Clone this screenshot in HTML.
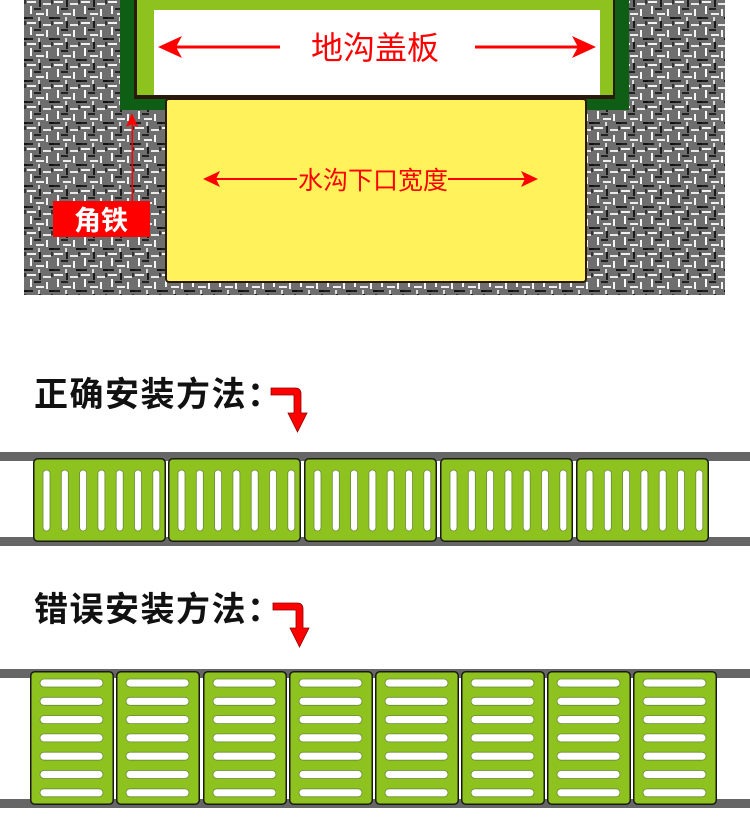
<!DOCTYPE html>
<html><head><meta charset="utf-8"><style>
html,body{margin:0;padding:0;background:#fff;width:750px;height:833px;overflow:hidden}
svg{display:block}
text{font-family:"Liberation Sans","Noto Sans CJK SC",sans-serif}
</style></head><body>
<svg width="750" height="833" viewBox="0 0 750 833" xmlns="http://www.w3.org/2000/svg">
<defs>
<pattern id="tex" width="27" height="21" patternUnits="userSpaceOnUse">
<rect width="27" height="21" fill="#6e6e6e"/>
<rect x="0" y="1" width="9" height="2" fill="#f2f2f2"/>
<rect x="12" y="0" width="2" height="7" fill="#1a1a1a"/>
<rect x="16" y="3" width="8" height="2" fill="#e8e8e8"/>
<rect x="3" y="6" width="2" height="8" fill="#fafafa"/>
<rect x="7" y="8" width="7" height="2" fill="#222"/>
<rect x="19" y="9" width="2" height="7" fill="#f5f5f5"/>
<rect x="9" y="13" width="8" height="2" fill="#eee"/>
<rect x="0" y="17" width="6" height="2" fill="#1e1e1e"/>
<rect x="22" y="17" width="5" height="2" fill="#111"/>
<rect x="11" y="17" width="2" height="4" fill="#ddd"/>
<rect x="24" y="0" width="2" height="4" fill="#333"/>
</pattern>
<g id="pc">
<rect x="0.75" y="0.75" width="131.5" height="82.5" rx="4" fill="#8dc21f" stroke="#1a1a1a" stroke-width="1.5"/>
<g fill="#fff" stroke="#6a8a3a" stroke-width="0.8">
<rect x="10" y="12" width="7" height="61" rx="3.5"/>
<rect x="28.3" y="12" width="7" height="61" rx="3.5"/>
<rect x="46.6" y="12" width="7" height="61" rx="3.5"/>
<rect x="64.9" y="12" width="7" height="61" rx="3.5"/>
<rect x="83.2" y="12" width="7" height="61" rx="3.5"/>
<rect x="101.5" y="12" width="7" height="61" rx="3.5"/>
<rect x="119.8" y="12" width="7" height="61" rx="3.5"/>
</g></g>
<g id="pw">
<rect x="0.75" y="0.75" width="82.5" height="132.5" rx="4" fill="#8dc21f" stroke="#1a1a1a" stroke-width="1.5"/>
<g fill="#fff" stroke="#6a8a3a" stroke-width="0.8">
<rect x="10" y="8" width="63" height="8" rx="4"/>
<rect x="10" y="26.3" width="63" height="8" rx="4"/>
<rect x="10" y="44.6" width="63" height="8" rx="4"/>
<rect x="10" y="62.9" width="63" height="8" rx="4"/>
<rect x="10" y="81.2" width="63" height="8" rx="4"/>
<rect x="10" y="99.5" width="63" height="8" rx="4"/>
<rect x="10" y="117.8" width="63" height="8" rx="4"/>
</g></g>
</defs>

<rect x="24" y="0" width="701" height="295" fill="url(#tex)"/>
<rect x="120" y="0" width="509" height="110" fill="#0f5e16"/>
<rect x="134" y="0" width="481" height="99" fill="#2a1a0e"/>
<rect x="137" y="0" width="476" height="95" fill="#8dc21f"/>
<rect x="154" y="10" width="446" height="85" fill="#fff"/>
<rect x="166" y="99" width="420" height="183" rx="3" fill="#fff25a" stroke="#2a1a0e" stroke-width="2"/>

<g fill="#f00" stroke="none">
<rect x="175" y="45.5" width="105" height="3"/>
<polygon points="158,47 182,36 176,47 182,58"/>
<rect x="475" y="45.5" width="105" height="3"/>
<polygon points="596,47 572,36 578,47 572,58"/>
<rect x="215" y="178" width="82" height="2"/>
<polygon points="203,179 220,171 216,179 220,187"/>
<rect x="448" y="178" width="78" height="2"/>
<polygon points="538,179 521,171 525,179 521,187"/>
<rect x="131.5" y="124" width="1.5" height="78"/>
<polygon points="132,113 126,127 132,124 138,127"/>
<rect x="53" y="201" width="97" height="36"/>
</g>
<text x="375" y="59" font-size="32" fill="#f00" text-anchor="middle">地沟盖板</text>
<text x="373" y="189" font-size="25" fill="#f00" text-anchor="middle">水沟下口宽度</text>
<text x="101" y="230" font-size="27" fill="#fff" text-anchor="middle" font-weight="bold">角铁</text>

<text x="34" y="406" font-size="34" letter-spacing="1.5" font-weight="bold" fill="#111">正确安装方法：</text>
<path d="M271 388 H295 Q301 388 301 394 V413 H307 L297.5 432 L288 413 H294 V396 Q294 395 293 395 H271 Z" fill="#f00" stroke="#8a0000" stroke-width="0.8"/>
<rect x="0" y="452" width="750" height="9" fill="#666"/>
<rect x="0" y="537" width="750" height="9" fill="#666"/>
<use href="#pc" x="33" y="458"/>
<use href="#pc" x="168" y="458"/>
<use href="#pc" x="304" y="458"/>
<use href="#pc" x="440" y="458"/>
<use href="#pc" x="576" y="458"/>

<text x="34" y="621" font-size="34" letter-spacing="1.5" font-weight="bold" fill="#111">错误安装方法：</text>
<path d="M273 603 H297 Q303 603 303 609 V628 H309 L299.5 647 L290 628 H296 V611 Q296 610 295 610 H273 Z" fill="#f00" stroke="#8a0000" stroke-width="0.8"/>
<rect x="0" y="669" width="750" height="9" fill="#666"/>
<rect x="0" y="799" width="750" height="9" fill="#666"/>
<use href="#pw" x="30" y="671"/>
<use href="#pw" x="116" y="671"/>
<use href="#pw" x="203" y="671"/>
<use href="#pw" x="289" y="671"/>
<use href="#pw" x="375" y="671"/>
<use href="#pw" x="461" y="671"/>
<use href="#pw" x="547" y="671"/>
<use href="#pw" x="633" y="671"/>
</svg>
</body></html>
